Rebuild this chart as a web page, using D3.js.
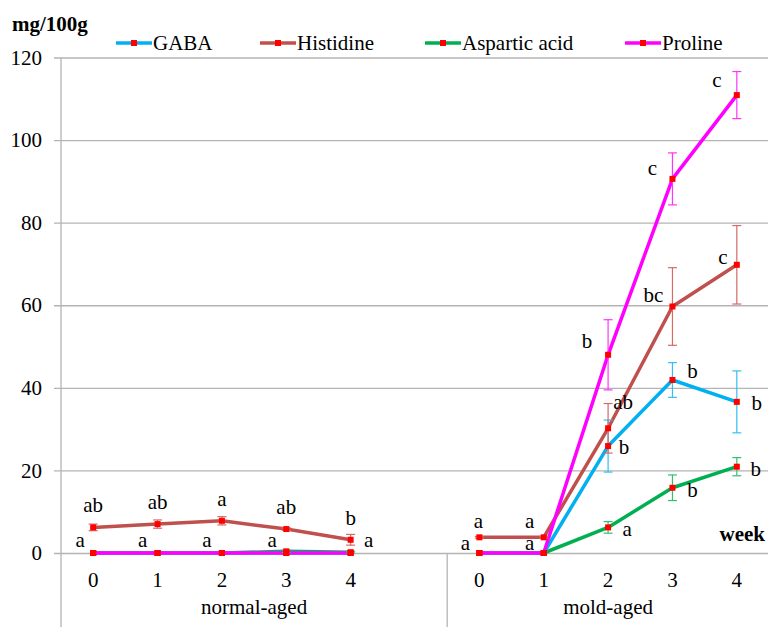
<!DOCTYPE html>
<html>
<head>
<meta charset="utf-8">
<script src="https://cdn.jsdelivr.net/npm/d3@7"></script>
</head>
<body style="margin:0;padding:0;background:#fff">
<svg id="chart" width="768" height="627" style="display:block"></svg>
<script>
// ---------- data ----------
const groups = ["normal-aged", "mold-aged"];
const weeks = ["0", "1", "2", "3", "4"];
const yTicks = [0, 20, 40, 60, 80, 100, 120];
const seriesNames = ["GABA", "Histidine", "Aspartic acid", "Proline"];

// values[group][week]
const gabaValues      = [[0, 0, 0, 0, 0],            [0, 0, 25.9, 41.9, 36.6]];
const histidineValues = [[6.2, 7.0, 7.8, 5.8, 3.2],  [3.8, 3.8, 30.2, 59.7, 69.8]];
const asparticValues  = [[0, 0, 0, 0.4, 0.2],        [0, 0, 6.2, 15.8, 20.9]];
const prolineValues   = [[0, 0, 0, 0, 0],            [0, 0, 48.0, 90.6, 110.9]];

const gabaErrors      = [[0, 0, 0, 0, 0],            [0, 0, 6.3, 4.2, 7.5]];
const histidineErrors = [[0.8, 1.0, 1.0, 0.3, 1.3],  [0.2, 0.2, 6.0, 9.4, 9.5]];
const asparticErrors  = [[0, 0, 0, 0.3, 0.2],        [0, 0, 1.4, 3.1, 2.2]];
const prolineErrors   = [[0, 0, 0, 0, 0],            [0, 0, 8.5, 6.3, 5.7]];

// significance letters: [group, week, series, text]
const letterLabels = [
  [0,0,"Histidine","ab"],[0,1,"Histidine","ab"],[0,2,"Histidine","a"],[0,3,"Histidine","ab"],[0,4,"Histidine","b"],
  [0,0,"GABA","a"],[0,1,"GABA","a"],[0,2,"GABA","a"],[0,3,"GABA","a"],[0,4,"GABA","a"],
  [1,0,"Histidine","a"],[1,1,"Histidine","a"],[1,0,"GABA","a"],[1,1,"GABA","a"],
  [1,2,"GABA","b"],[1,3,"GABA","b"],[1,4,"GABA","b"],
  [1,2,"Aspartic acid","a"],[1,3,"Aspartic acid","b"],[1,4,"Aspartic acid","b"],
  [1,2,"Histidine","ab"],[1,3,"Histidine","bc"],[1,4,"Histidine","c"],
  [1,2,"Proline","b"],[1,3,"Proline","c"],[1,4,"Proline","c"]
];
// ---------- layout (label offsets from the point, px) ----------
const letterOffsets = [
  [0,-15],[0,-15],[0,-15],[0,-15],[0,-15],
  [-13,-6],[-15,-6],[-15,-6],[-14,-6],[18,-6],
  [-1,-9],[-14,-9],[-14,-3],[-14,-3],
  [16,8],[20,-2],[20,8],
  [19,9],[20,9],[19,9],
  [15,-19],[-19,-4],[-14,-1],
  [-21,-7],[-20,-4],[-20,-8]
];

const FONT = '"Liberation Serif"';
const FS = "21px";

const values = {"GABA": gabaValues, "Histidine": histidineValues, "Aspartic acid": asparticValues, "Proline": prolineValues};
const errors = {"GABA": gabaErrors, "Histidine": histidineErrors, "Aspartic acid": asparticErrors, "Proline": prolineErrors};
const lineColor = {"GABA": "#00B0F0", "Histidine": "#C0504D", "Aspartic acid": "#00B050", "Proline": "#FF00FF"};
const errColor  = {"GABA": "#33BFF2", "Histidine": "#D56A66", "Aspartic acid": "#33C070", "Proline": "#FF33FF"};
const drawOrder = ["Aspartic acid", "GABA", "Histidine", "Proline"];

const svg = d3.select("#chart");
const W = 768, H = 627;
const plotLeft = 61, plotRight = 769, plotTop = 57.5, zeroY = 553;

// slots: 5 weeks + spacer for first group, 5 weeks for second
const slots = [];
groups.forEach((g, gi) => {
  weeks.forEach(w => slots.push(gi + "|" + w));
  if (gi === 0) slots.push("gap");
});
const x = d3.scaleBand().domain(slots).range([plotLeft, plotRight]).paddingInner(0).paddingOuter(0);
const cx = (gi, wi) => x(gi + "|" + weeks[wi]) + x.bandwidth() / 2;
const y = d3.scaleLinear().domain([0, 120]).range([zeroY, plotTop]);

function styleText(sel) {
  return sel.attr("font-family", "Liberation Serif").style("font-family", FONT).style("font-size", FS).style("fill", "#000");
}

// gridlines + y labels
const yAxis = d3.axisLeft(y).tickValues(yTicks).tickSize(-(W - 54)).tickPadding(12).tickFormat(d3.format("d"));
const ga = svg.append("g").attr("transform", "translate(54,0)").call(yAxis);
ga.attr("font-family", null).attr("font-size", null);
ga.select(".domain").remove();
ga.selectAll(".tick line").attr("stroke", "#B4B4B4").attr("stroke-width", 1.3);
styleText(ga.selectAll(".tick text"));

// vertical axis + group divider
svg.append("line").attr("x1", plotLeft).attr("x2", plotLeft).attr("y1", plotTop).attr("y2", H)
  .attr("stroke", "#B4B4B4").attr("stroke-width", 1.3);
svg.append("line").attr("x1", x("gap") + x.bandwidth()).attr("x2", x("gap") + x.bandwidth())
  .attr("y1", zeroY).attr("y2", H).attr("stroke", "#B4B4B4").attr("stroke-width", 1.3);

// x tick labels
const xAxis = d3.axisBottom(x).tickSize(0).tickPadding(19)
  .tickFormat(d => d === "gap" ? "" : d.split("|")[1]);
const xa = svg.append("g").attr("transform", `translate(0,${zeroY})`).call(xAxis);
xa.attr("font-family", null).attr("font-size", null);
xa.select(".domain").remove();
styleText(xa.selectAll(".tick text"));

// group labels
groups.forEach((g, gi) => {
  const x0 = gi === 0 ? plotLeft : x("gap") + x.bandwidth();
  const x1 = gi === 0 ? x("gap") + x.bandwidth() : plotRight;
  styleText(svg.append("text").attr("x", (x0 + x1) / 2).attr("y", 614).attr("text-anchor", "middle")).text(g);
});

// lines
const line = d3.line().x(d => d[0]).y(d => d[1]);
drawOrder.forEach(s => {
  groups.forEach((g, gi) => {
    const pts = weeks.map((w, wi) => [cx(gi, wi), y(values[s][gi][wi])]);
    svg.append("path").attr("d", line(pts)).attr("fill", "none")
      .attr("stroke", lineColor[s]).attr("stroke-width", 3.5).attr("stroke-linejoin", "round");
  });
});
// error bars
drawOrder.forEach(s => {
  groups.forEach((g, gi) => {
    weeks.forEach((w, wi) => {
      const e = errors[s][gi][wi];
      if (!e) return;
      const v = values[s][gi][wi];
      const xc = cx(gi, wi);
      const eg = svg.append("g").attr("stroke", errColor[s]).attr("stroke-width", 1.2);
      eg.append("line").attr("x1", xc).attr("x2", xc).attr("y1", y(v + e)).attr("y2", y(v - e));
      eg.append("line").attr("x1", xc - 4.5).attr("x2", xc + 4.5).attr("y1", y(v + e)).attr("y2", y(v + e));
      eg.append("line").attr("x1", xc - 4.5).attr("x2", xc + 4.5).attr("y1", y(v - e)).attr("y2", y(v - e));
    });
  });
});
// markers
drawOrder.forEach(s => {
  groups.forEach((g, gi) => {
    weeks.forEach((w, wi) => {
      svg.append("rect").attr("x", cx(gi, wi) - 3).attr("y", y(values[s][gi][wi]) - 3)
        .attr("width", 6).attr("height", 6).attr("fill", "#FF0000");
    });
  });
});

// letters
letterLabels.forEach((l, i) => {
  const [gi, wi, s, t] = l;
  const [dx, dy] = letterOffsets[i];
  styleText(svg.append("text").attr("x", cx(gi, wi) + dx).attr("y", y(values[s][gi][wi]) + dy)
    .attr("text-anchor", "middle")).text(t);
});

// axis titles
styleText(svg.append("text").attr("x", 12).attr("y", 31)).style("font-weight", "bold").text("mg/100g");
styleText(svg.append("text").attr("x", 765).attr("y", 541).attr("text-anchor", "end")).style("font-weight", "bold").text("week");

// legend
const legendX = [116, 260, 425, 625];
seriesNames.forEach((s, i) => {
  const lg = svg.append("g").attr("transform", `translate(${legendX[i]},43)`);
  lg.append("line").attr("x1", 0).attr("x2", 36).attr("y1", 0).attr("y2", 0)
    .attr("stroke", lineColor[s]).attr("stroke-width", 3.5);
  lg.append("rect").attr("x", 15).attr("y", -3).attr("width", 6).attr("height", 6).attr("fill", "#FF0000");
  styleText(lg.append("text").attr("x", 37).attr("y", 7)).text(s);
});
</script>
</body>
</html>
